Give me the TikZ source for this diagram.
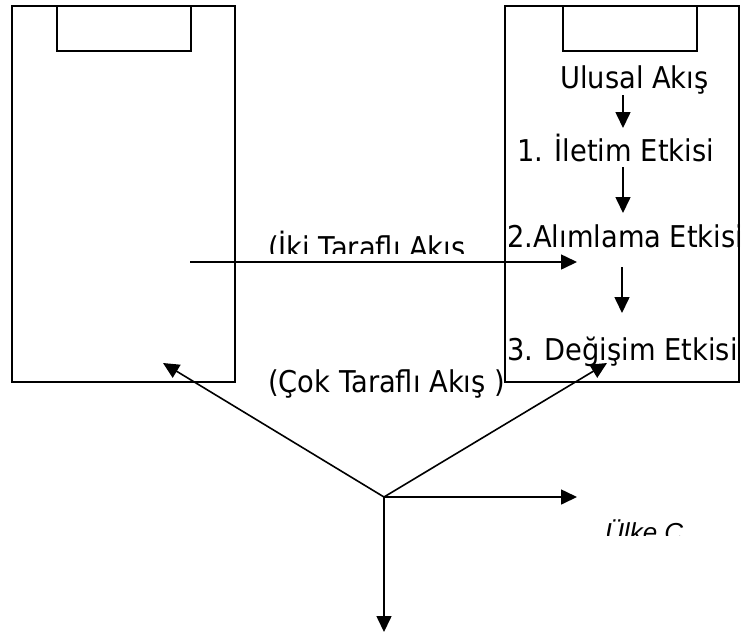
\documentclass[tikz,border=0pt]{standalone}
\usepackage{fontspec}
\setmainfont{DejaVu Sans}[FakeStretch=0.91]
\newfontfamily\itfont{Liberation Sans}
\usetikzlibrary{arrows.meta}
\begin{document}
\begin{tikzpicture}[x=1pt,y=-1pt,
  box/.style={draw,line width=1.8pt,inner sep=0pt,outer sep=0pt},
  lbl/.style={anchor=base west,inner sep=0pt,font=\fontsize{30}{36}\selectfont},
  arr/.style={line width=1.6pt,-{Triangle[length=16pt,width=15pt]}}]
\useasboundingbox (0,0) rectangle (742,633);
% boxes
\node[box,minimum width=223pt,minimum height=376pt] (L) at (123.5,194) {};
\node[box,minimum width=134pt,minimum height=45pt] (Li) at (124,28.5) {};
\node[box,minimum width=234pt,minimum height=376pt] (R) at (622,194) {};
\node[box,minimum width=134pt,minimum height=45pt] (Ri) at (630,28.5) {};
% texts
\node[lbl] (ua) at (560,88) {Ulusal Akış};
\node[lbl] (ie) at (517,161) {1. İletim Etkisi};
\node[lbl] (ae) at (507,247) {2.Alımlama Etkisi};
\node[lbl] (de) at (507,360) {3. Değişim Etkisi};
\begin{scope}
\clip (0,0) rectangle (742,253);
\node[lbl] (iki) at (268,258) {(İki Taraflı Akış};
\end{scope}
\node[lbl] (cok) at (268,392) {(Çok Taraflı Akış )};
\begin{scope}
\clip (0,0) rectangle (742,535);
\node[anchor=base west,inner sep=0pt,font=\itfont\itshape\fontsize{26}{30}\selectfont] (ulke) at (605,541) {Ülke C};
\end{scope}
% coordinates
\coordinate (a1s) at (623,95);
\coordinate (a1e) at (623,128);
\coordinate (a2s) at (623,167);
\coordinate (a2e) at (623,213);
\coordinate (a3s) at (622,267);
\coordinate (a3e) at (622,313);
\coordinate (hs) at (190,262);
\coordinate (he) at (577,262);
\coordinate (o) at (384,497);
\coordinate (ul) at (163,363);
\coordinate (ur) at (607,363);
\coordinate (rt) at (577,497);
\coordinate (dn) at (384,632);
% arrows
\draw[arr] (a1s) -- (a1e);
\draw[arr] (a2s) -- (a2e);
\draw[arr] (a3s) -- (a3e);
\draw[arr] (hs) -- (he);
\draw[arr] (o) -- (ul);
\draw[arr] (o) -- (ur);
\draw[arr] (o) -- (rt);
\draw[arr] (o) -- (dn);
\end{tikzpicture}
\end{document}
